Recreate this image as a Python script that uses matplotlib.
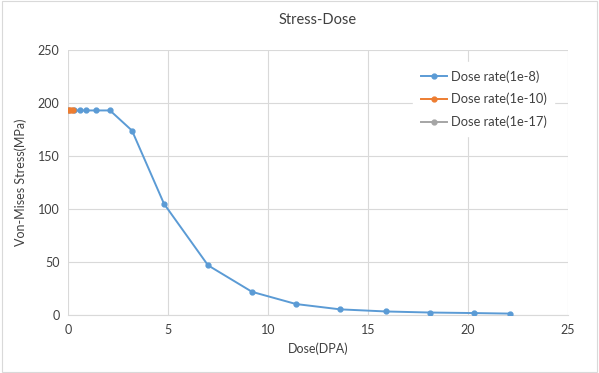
import matplotlib
matplotlib.use("Agg")
import matplotlib.pyplot as plt

plt.rcParams['font.family'] = ['Lato', 'DejaVu Sans']

dose_1e8 = [0.3, 0.6, 0.9, 1.4, 2.1, 3.2, 4.8, 7.0, 9.2, 11.4, 13.6, 15.9, 18.1, 20.3, 22.1]
stress_1e8 = [193, 193, 193, 193, 193, 174, 105, 47, 22, 10.5, 5.5, 3.5, 2.5, 2.0, 1.5]
dose_1e10 = [0.05, 0.15, 0.25]
stress_1e10 = [193, 193, 193]
dose_1e17 = [0.0, 0.01]
stress_1e17 = [193, 193]

xticks = [0, 5, 10, 15, 20, 25]
yticks = [0, 50, 100, 150, 200, 250]

fig = plt.figure(figsize=(5.99, 3.73), dpi=100)
fig.patches.append(plt.Rectangle((0.003, 0.003), 0.994, 0.994, transform=fig.transFigure,
                                 fill=False, edgecolor='#d9d9d9', linewidth=0.8))
ax = fig.add_axes([0.1135, 0.155, 0.835, 0.711])

ax.plot(dose_1e8, stress_1e8, color='#5B9BD5', marker='o', markersize=3.5, linewidth=1.4,
        label='Dose rate(1e-8)', zorder=3)
ax.plot(dose_1e10, stress_1e10, color='#ED7D31', marker='o', markersize=3.5, linewidth=1.4,
        label='Dose rate(1e-10)', zorder=4)
ax.plot(dose_1e17, stress_1e17, color='#A5A5A5', marker='o', markersize=3.5, linewidth=1.4,
        label='Dose rate(1e-17)', zorder=2)

ax.set_xlim(0, 25)
ax.set_ylim(0, 250)
ax.set_xticks(xticks)
ax.set_yticks(yticks)
ax.grid(True, color='#d9d9d9', linewidth=0.8)
ax.set_axisbelow(True)
for s in ['top', 'right', 'left']:
    ax.spines[s].set_visible(False)
ax.spines['bottom'].set_color('#d9d9d9')
ax.tick_params(length=0, labelsize=9, colors='#404040', pad=6)

ax.set_xlabel('Dose(DPA)', fontsize=9, color='#404040', labelpad=5)
ax.set_ylabel('Von-Mises Stress(MPa)', fontsize=9, color='#404040', labelpad=8)
fig.suptitle('Stress-Dose', x=0.53, y=0.965, fontsize=10.5, color='#404040')

leg = ax.legend(loc='upper right', bbox_to_anchor=(0.985, 0.978), frameon=True, framealpha=1,
                edgecolor='white', fontsize=9.3, handlelength=2.0, labelspacing=0.8,
                borderpad=0.6, handletextpad=0.3)
for t in leg.get_texts():
    t.set_color('#404040')

fig.savefig('out.png', dpi=100)
